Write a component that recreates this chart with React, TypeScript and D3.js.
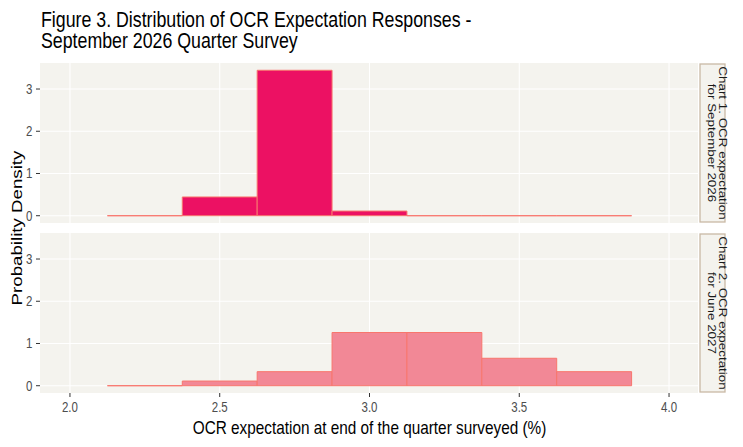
import React, { useEffect, useRef } from 'react';
import * as d3 from 'd3';

// bin midpoints (bin width 0.25)
const binMids = [2.25, 2.5, 2.75, 3.0, 3.25, 3.5, 3.75];
const sep2026Density = [0, 0.444, 3.444, 0.111, 0, 0, 0];
const jun2027Density = [0, 0.111, 0.333, 1.26, 1.26, 0.65, 0.333];
const panelLabels = [
    ['Chart 1. OCR expectation', 'for September 2026'],
    ['Chart 2. OCR expectation', 'for June 2027'],
];
const titleLines = [
    'Figure 3. Distribution of OCR Expectation Responses -',
    'September 2026 Quarter Survey',
];
const panelFills = ['#EC1163', '#F28896'];
const xTicks = [2.0, 2.5, 3.0, 3.5, 4.0];
const yTicks = [0, 1, 2, 3];

const width = 743;
const height = 447;
const font = '"Liberation Sans", Arial, sans-serif';
const squeeze = 0.82; // the reference uses a narrow face

const App: React.FC = () => {
    const ref = useRef<SVGSVGElement>(null);

    useEffect(() => {
        const svg = d3.select(ref.current);
        svg.selectAll('*').remove();

        const left = 40;
        const right = 699;
        const panelTops = [63, 233];
        const panelH = 160;
        const binW = 0.25;

        const x = d3.scaleLinear().domain([1.9, 4.1]).range([left, right]);
        const yMax = 3.444;
        const pad = yMax * 0.05;

        // horizontal text squeezed to look like a narrow face
        const label = (parent: any, tx: number, ty: number, txt: string, size: number,
            anchor = 'start', fill = '#000', rot = 0, sq = squeeze) => parent.append('text')
                .attr('transform', `translate(${tx}, ${ty}) scale(${sq}, 1) rotate(${rot})`)
                .attr('text-anchor', anchor)
                .attr('font-family', font)
                .attr('font-size', size)
                .attr('fill', fill)
                .text(txt);

        // title
        label(svg, 41, 26.5, titleLines[0], 21.6, 'start', '#000', 0, 0.823);
        label(svg, 41, 48, titleLines[1], 21.6, 'start', '#000', 0, 0.823);

        const series = [sep2026Density, jun2027Density];

        series.forEach((values, p) => {
            const top = panelTops[p];
            const y = d3.scaleLinear().domain([-pad, yMax + pad]).range([top + panelH, top]);
            const g = svg.append('g');

            g.append('rect')
                .attr('x', left).attr('y', top)
                .attr('width', right - left - 1).attr('height', panelH)
                .attr('fill', '#F4F3EE');

            g.selectAll('.hgrid').data(yTicks).enter().append('line')
                .attr('x1', left).attr('x2', right - 1)
                .attr('y1', (d) => y(d)).attr('y2', (d) => y(d))
                .attr('stroke', '#fff').attr('stroke-width', 1.1);
            g.selectAll('.vgrid').data(xTicks).enter().append('line')
                .attr('x1', (d) => x(d)).attr('x2', (d) => x(d))
                .attr('y1', top).attr('y2', top + panelH)
                .attr('stroke', '#fff').attr('stroke-width', 1.1);

            // bars (paths so that empty bins still show their outline)
            g.selectAll('.bar').data(values).enter().append('path')
                .attr('d', (d, i) => {
                    const x0 = x(binMids[i] - binW / 2);
                    const x1 = x(binMids[i] + binW / 2);
                    return `M${x0},${y(0)}V${y(d)}H${x1}V${y(0)}Z`;
                })
                .attr('fill', panelFills[p])
                .attr('stroke', '#F8766D')
                .attr('stroke-width', 1);

            // y axis
            g.selectAll('.ytick').data(yTicks).enter().append('line')
                .attr('x1', left - 4).attr('x2', left)
                .attr('y1', (d) => y(d)).attr('y2', (d) => y(d))
                .attr('stroke', '#333').attr('stroke-width', 1);
            yTicks.forEach((t) => {
                label(g, left - 7.5, y(t) + 5, String(t), 14, 'end', '#4D4D4D');
            });

            // strip
            const sx = right + 1;
            const sw = 25;
            g.append('rect')
                .attr('x', sx).attr('y', top + 1)
                .attr('width', sw).attr('height', panelH - 2)
                .attr('fill', '#F4F3EE')
                .attr('stroke', '#C9B9A5')
                .attr('stroke-width', 1.3);
            const cx = sx + sw / 2;
            const cy = top + panelH / 2;
            const st = g.append('text')
                .attr('transform', `translate(${cx}, ${cy}) scale(${squeeze}, 1) rotate(90)`)
                .attr('text-anchor', 'middle')
                .attr('font-family', font)
                .attr('font-size', 13.4)
                .attr('fill', '#1A1A1A');
            st.append('tspan').attr('x', 0).attr('y', -7.9).text(panelLabels[p][0]);
            st.append('tspan').attr('x', 0).attr('y', 5.5).text(panelLabels[p][1]);
        });

        // x axis (bottom panel)
        const bottom = panelTops[1] + panelH;
        svg.selectAll('.xtick').data(xTicks).enter().append('line')
            .attr('x1', (d) => x(d)).attr('x2', (d) => x(d))
            .attr('y1', bottom).attr('y2', bottom + 4)
            .attr('stroke', '#333').attr('stroke-width', 1);
        xTicks.forEach((t) => {
            label(svg, x(t), 412, d3.format('.1f')(t), 14, 'middle', '#4D4D4D');
        });

        label(svg, (left + right) / 2, 434, 'OCR expectation at end of the quarter surveyed (%)', 18.7, 'middle');
        label(svg, 22, 228, 'Probability Density', 18.7, 'middle', '#000', -90);
    }, []);

    return <svg ref={ref} width={width} height={height}
        style={{ position: 'absolute', left: 0, top: 0, background: '#fff' }}></svg>;
};

export default App;
